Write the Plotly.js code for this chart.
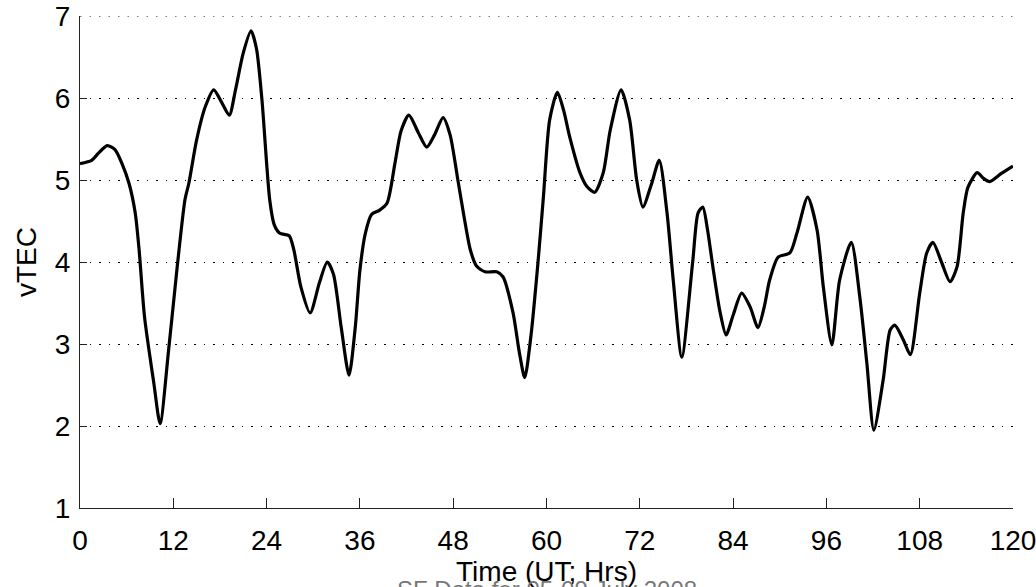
<!DOCTYPE html>
<html>
<head>
<meta charset="utf-8">
<script src="https://cdn.plot.ly/plotly-3.0.1.min.js"></script>
<style>
  html, body { margin: 0; padding: 0; background: #fff; }
  #chart { width: 1036px; height: 587px; }
</style>
</head>
<body>
<div id="chart"></div>
<script>
// Time axis (UT hours) and vertical TEC values
const timeHrs = [
  0, 1.5, 2.4, 3.5, 4.5, 5.4, 6.3, 7.1, 7.6, 8.3, 9.5, 10.3, 11.4, 12.5, 13.5, 14.0,
  15.0, 16.1, 17.2, 18.2, 19.2, 20.0, 21.0, 22.0, 22.7, 23.4, 24.4, 25.0, 25.7, 26.9,
  27.5, 28.4, 29.6, 30.8, 31.8, 32.6, 33.6, 34.6, 35.4, 36.0, 36.7, 37.5, 38.5, 39.5,
  40.5, 41.3, 42.3, 43.5, 44.6, 45.6, 46.7, 47.6, 48.6, 49.4, 50.2, 51.0, 52.1, 53.6,
  54.4, 55.7, 56.5, 57.2, 58.0, 58.9, 59.6, 60.4, 61.4, 62.2, 63.0, 64.3, 65.2, 66.2,
  67.3, 68.2, 69.6, 70.7, 71.6, 72.4, 73.5, 74.5, 75.5, 76.3, 77.4, 78.8, 79.5, 80.1,
  80.7, 81.4, 82.3, 83.1, 84.0, 85.1, 86.2, 87.2, 88.0, 88.7, 89.8, 91.3, 92.2, 93.6,
  94.8, 95.6, 96.7, 97.7, 99.2, 100.3, 101.2, 102.1, 103.3, 104.2, 104.8, 105.9, 106.8,
  108.0, 108.9, 109.7, 110.8, 111.9, 112.8, 113.6, 114.2, 115.4, 116.2, 117.0, 118.5, 120
];
const vtec = [
  5.20, 5.24, 5.33, 5.42, 5.37, 5.20, 4.96, 4.60, 4.15, 3.33, 2.52, 2.03, 2.93, 3.94, 4.76, 4.96,
  5.49, 5.89, 6.10, 5.95, 5.79, 6.10, 6.55, 6.82, 6.60, 5.98, 4.76, 4.45, 4.35, 4.32,
  4.15, 3.70, 3.38, 3.75, 4.00, 3.85, 3.20, 2.62, 3.20, 3.90, 4.35, 4.58, 4.63, 4.72,
  5.20, 5.60, 5.79, 5.58, 5.40, 5.55, 5.76, 5.55, 5.00, 4.55, 4.15, 3.95, 3.88, 3.88,
  3.82, 3.38, 2.90, 2.59, 3.10, 3.99, 4.79, 5.73, 6.07, 5.85, 5.52, 5.09, 4.92, 4.85,
  5.09, 5.61, 6.10, 5.73, 5.00, 4.67, 4.95, 5.24, 4.60, 3.78, 2.84, 4.00, 4.60, 4.67,
  4.40, 3.94, 3.40, 3.11, 3.35, 3.62, 3.45, 3.20, 3.45, 3.78, 4.06, 4.11, 4.35, 4.79,
  4.39, 3.70, 2.99, 3.78, 4.24, 3.57, 2.77, 1.95, 2.56, 3.17, 3.23, 3.05, 2.87,
  3.62, 4.11, 4.24, 4.00, 3.76, 3.94, 4.60, 4.91, 5.09, 5.02, 4.98, 5.08, 5.17
];
const xTicks = [0, 12, 24, 36, 48, 60, 72, 84, 96, 108, 120];
const yTicks = [1, 2, 3, 4, 5, 6, 7];
const captionText = 'SF Data for 05-09 July 2008';

const baseFont = { family: 'Liberation Sans, Arial, Helvetica, sans-serif', size: 28, color: '#000' };
const gridDash = '1.5px,8px';

const trace = {
  x: timeHrs,
  y: vtec,
  type: 'scatter',
  mode: 'lines',
  line: { color: '#000', width: 3.2, shape: 'spline', smoothing: 0.7 },
  hoverinfo: 'x+y'
};

const layout = {
  width: 1036,
  height: 587,
  margin: { l: 80, r: 23, t: 16, b: 79 },
  paper_bgcolor: '#fff',
  plot_bgcolor: '#fff',
  font: baseFont,
  showlegend: false,
  xaxis: {
    range: [0, 120],
    tickvals: xTicks,
    ticktext: xTicks.map(String),
    ticks: 'inside',
    ticklen: 10,
    tickcolor: '#222',
    tickwidth: 1,
    showline: true,
    linecolor: '#222',
    linewidth: 1,
    showgrid: false,
    zeroline: false,
    tickfont: baseFont,
    ticklabeloverflow: 'allow',
    ticklabelstandoff: 7,
    title: { text: 'Time (UT; Hrs)', font: baseFont, standoff: 4 }
  },
  yaxis: {
    range: [1, 7],
    tickvals: yTicks,
    ticktext: yTicks.map(String),
    ticks: 'inside',
    ticklen: 7,
    tickcolor: '#222',
    tickwidth: 1,
    showline: true,
    linecolor: '#222',
    linewidth: 1,
    showgrid: true,
    gridcolor: '#000',
    gridwidth: 1,
    griddash: gridDash,
    zeroline: false,
    tickfont: baseFont,
    ticklabeloverflow: 'allow',
    ticklabelstandoff: 3,
    title: { text: 'vTEC', font: baseFont, standoff: 10 }
  },
  shapes: [
    {
      // grid line at the top tick, which sits on the plot edge
      type: 'line', xref: 'paper', yref: 'y',
      x0: 0, x1: 1,
      y0: yTicks[yTicks.length - 1], y1: yTicks[yTicks.length - 1],
      line: { color: '#000', width: 1, dash: gridDash },
      layer: 'below'
    }
  ],
  annotations: [
    {
      // caption under the axis title, running past the page edge
      text: captionText,
      xref: 'paper', yref: 'paper',
      x: 0.5, y: -0.134,
      xanchor: 'center', yanchor: 'top',
      showarrow: false,
      font: { family: baseFont.family, size: 24, color: '#777' }
    }
  ]
};

Plotly.newPlot('chart', [trace], layout, { displayModeBar: false, staticPlot: true });
</script>
</body>
</html>
